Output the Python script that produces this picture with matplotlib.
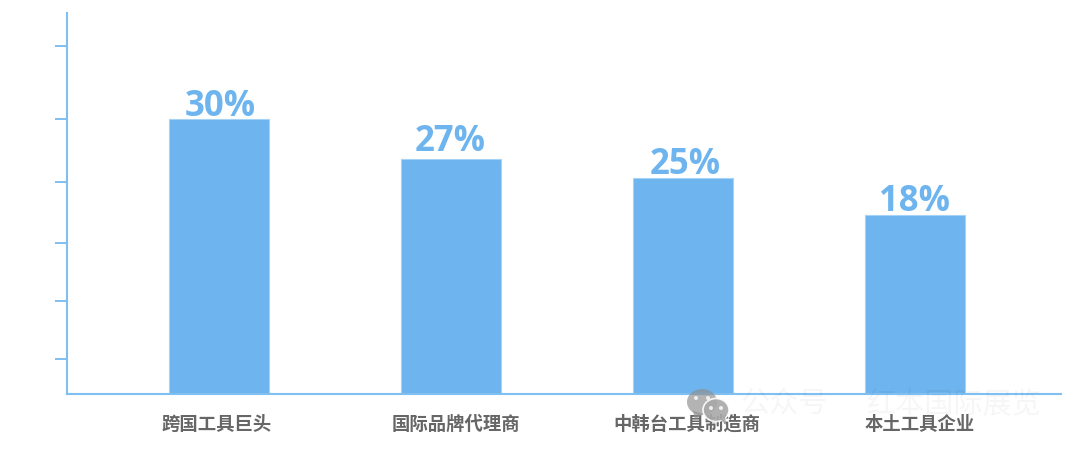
import matplotlib
matplotlib.use('Agg')
import matplotlib.pyplot as plt
from matplotlib.patches import Ellipse, Polygon
from matplotlib.transforms import ScaledTranslation

plt.rcParams['font.family'] = ['Noto Sans CJK SC', 'DejaVu Sans']

categories = ['跨国工具巨头', '国际品牌代理商', '中韩台工具制造商', '本土工具企业']
bar_heights = [30.0, 25.7, 23.6, 19.5]
bar_labels = ['30%', '27%', '25%', '18%']
tick_values = [3.8, 10.1, 16.5, 23.2, 30.0, 38.0]

W, H = 1080, 449
blue = '#6EB4EE'
line_blue = '#7FBFF2'


def main():
    fig = plt.figure(figsize=(W / 100, H / 100), dpi=100)
    ax = fig.add_axes([67 / W, 1 - 394 / H, (1061 - 67) / W, (394 - 13) / H])

    x = list(range(len(categories)))
    ax.bar(x, bar_heights, width=0.431, color=blue, edgecolor='#A6D2F5', linewidth=0.8, zorder=2)
    ax.set_xlim(-0.655, 3.63)
    ax.set_ylim(0, 41.6)

    # labels sit a bit differently on each bar in the original
    nudges = [(1, -7), (-1, -3), (2, -7), (0, -6)]
    for i, h, lab, nudge in zip(x, bar_heights, bar_labels, nudges):
        ax.annotate(lab, (i, h), xytext=(nudge[0] * 0.72, 1 + nudge[1] * 0.72), textcoords='offset points',
                    ha='center', va='bottom', fontsize=25, fontweight='bold',
                    color=blue, family=['Open Sans', 'DejaVu Sans'])

    ax.set_xticks(x)
    ax.set_xticklabels(categories, fontsize=13.2, fontweight='bold', color='#666666')
    ax.tick_params(axis='x', length=0, pad=15)
    # category names are not quite centred under the bars
    for tick_lab, dx in zip(ax.get_xticklabels(), [-2, 5, 4, 5]):
        tick_lab.set_transform(tick_lab.get_transform() + ScaledTranslation(dx / 100, 0, fig.dpi_scale_trans))
    ax.set_yticks(tick_values)
    ax.set_yticklabels([])
    ax.tick_params(axis='y', length=8.6, width=1.4, color=line_blue)

    ax.spines['top'].set_visible(False)
    ax.spines['right'].set_visible(False)
    ax.spines['left'].set_color(line_blue)
    ax.spines['bottom'].set_color(line_blue)
    ax.spines['left'].set_linewidth(1.5)
    ax.spines['bottom'].set_linewidth(1.5)
    ax.spines['bottom'].set_zorder(3)

    # watermark, pixel positions
    ov = fig.add_axes([0, 0, 1, 1], facecolor='none')
    ov.set_xlim(0, W)
    ov.set_ylim(H, 0)
    ov.axis('off')
    ov.add_patch(Ellipse((702, 402), 30, 26, color='#8f8f8f', alpha=0.68, lw=0))
    ov.add_patch(Polygon([[693, 411], [695, 420], [703, 414]], color='#8f8f8f', alpha=0.68, lw=0))
    ov.add_patch(Ellipse((716, 410), 26, 23, color='#a8a8a8', alpha=0.9, ec='white', lw=1.2))
    ov.add_patch(Polygon([[720, 419], [726, 425], [725, 415]], color='#a8a8a8', alpha=0.9, lw=0))
    for px, py in [(696, 398), (708, 398), (711, 408), (721, 408)]:
        ov.add_patch(Ellipse((px, py), 4, 4, color='white', alpha=0.8, lw=0))
    ov.text(741, 405, '公众号', fontsize=21, color='#000000', alpha=0.035, va='center', ha='left')
    ov.text(866, 405, '红本国际展览', fontsize=21, color='#000000', alpha=0.035, va='center', ha='left')

    plt.savefig('out.png', dpi=100)


if __name__ == '__main__':
    main()
